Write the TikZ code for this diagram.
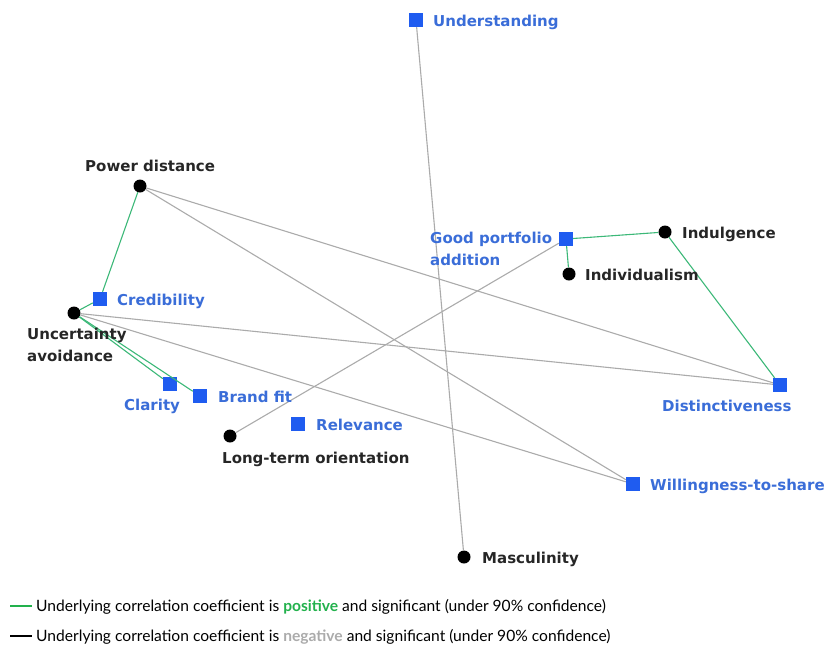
\documentclass[tikz,border=0pt]{standalone}
\usepackage{fontspec}
\setmainfont{DejaVu Sans}
\newfontfamily\legfont{Lato}
\definecolor{sqblue}{HTML}{1F5CF0}
\definecolor{lblblue}{HTML}{3A6DD8}
\definecolor{posgreen}{HTML}{3CB878}
\definecolor{neggray}{HTML}{ABABAB}
\definecolor{leggreen}{HTML}{22B14C}
\tikzset{
  sq/.style={fill=sqblue, minimum size=14pt, inner sep=0pt, draw=none, rectangle},
  dot/.style={fill=black, circle, minimum size=13pt, inner sep=0pt, draw=none},
  bl/.style={text=lblblue, font=\fontsize{15}{22}\selectfont\bfseries, inner sep=0pt},
  kl/.style={text=black!85, font=\fontsize{15}{22}\selectfont\bfseries, inner sep=0pt},
  posedge/.style={draw=posgreen, line width=1.1pt},
  negedge/.style={draw=neggray, line width=1.1pt},
  legtext/.style={anchor=base west, inner sep=0pt, font=\legfont\fontsize{15.6}{18}\selectfont},
}
\begin{document}
\begin{tikzpicture}[x=1pt,y=-1pt]
\useasboundingbox (0,0) rectangle (829,646);
% nodes
\node[sq] (und) at (416,20) {};
\node[dot] (pd) at (140,186) {};
\node[dot] (ua) at (74,313) {};
\node[sq] (cred) at (100,299) {};
\node[sq] (clar) at (170,384) {};
\node[sq] (bf) at (200,396) {};
\node[sq] (rel) at (298,424) {};
\node[dot] (lto) at (230,436) {};
\node[sq] (gpa) at (566,239) {};
\node[dot] (ind) at (569,274) {};
\node[dot] (indu) at (665,232) {};
\node[sq] (dist) at (780,385) {};
\node[sq] (wts) at (633,484) {};
\node[dot] (masc) at (464,557) {};
% edges
\draw[negedge] (und) -- (masc);
\draw[negedge] (pd) -- (dist);
\draw[negedge] (pd) -- (wts);
\draw[negedge] (ua) -- (dist);
\draw[negedge] (ua) -- (wts);
\draw[negedge] (lto) -- (gpa);
\draw[posedge] (pd) -- (cred);
\draw[posedge] (ua) -- (cred);
\draw[posedge] (ua) -- (clar);
\draw[posedge] (ua) -- (bf);
\draw[posedge] (gpa) -- (indu);
\draw[posedge] (gpa) -- (ind);
\draw[posedge] (indu) -- (dist);
% labels
\node[bl, anchor=base west] (lund) at (433,26) {Understanding};
\node[kl, anchor=base west] (lpd) at (85,171) {Power distance};
\node[kl, anchor=base west] (lua) at (27,339) {Uncertainty};
\node[kl, anchor=base west] (lua2) at (27,361) {avoidance};
\node[bl, anchor=base west] (lcred) at (117,305) {Credibility};
\node[bl, anchor=base west] (lclar) at (124,410) {Clarity};
\node[bl, anchor=base west] (lbf) at (218,402) {Brand fit};
\node[bl, anchor=base west] (lrel) at (316,430) {Relevance};
\node[kl, anchor=base west] (llto) at (222,463) {Long-term orientation};
\node[bl, anchor=base west] (lgpa) at (430,243) {Good portfolio};
\node[bl, anchor=base west] (lgpa2) at (430,265) {addition};
\node[kl, anchor=base west] (lind) at (585,280) {Individualism};
\node[kl, anchor=base west] (lindu) at (682,238) {Indulgence};
\node[bl, anchor=base west] (ldist) at (662,411) {Distinctiveness};
\node[bl, anchor=base west] (lwts) at (650,490) {Willingness-to-share};
\node[kl, anchor=base west] (lmasc) at (482,563) {Masculinity};
% legend
\coordinate (g1) at (10,606);
\coordinate (g2) at (32,606);
\coordinate (k1) at (10,636);
\coordinate (k2) at (32,636);
\draw[draw=leggreen, line width=1.2pt] (g1) -- (g2);
\draw[draw=black, line width=1.2pt] (k1) -- (k2);
\node[legtext] (leg1) at (36,611)
  {Underlying correlation coefficient is \textcolor{leggreen}{\bfseries positive} and significant (under 90\% confidence)};
\node[legtext] (leg2) at (36,641)
  {Underlying correlation coefficient is \textcolor{neggray}{\bfseries negative} and significant (under 90\% confidence)};
\end{tikzpicture}
\end{document}
